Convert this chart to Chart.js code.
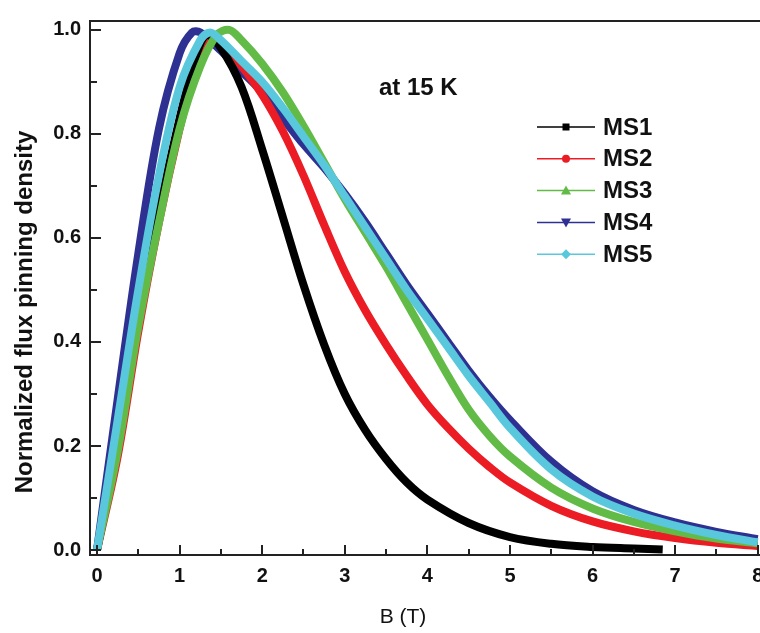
<!DOCTYPE html>
<html>
<head>
<meta charset="utf-8">
<script src="https://cdn.jsdelivr.net/npm/chart.js@4.4.1/dist/chart.umd.min.js"></script>
<style>
html, body { margin: 0; padding: 0; background: #fff; overflow: hidden; }
#wrap { width: 790px; height: 633px; }
</style>
</head>
<body>
<div id="wrap"><canvas id="c" width="790" height="633"></canvas></div>
<script>
// data (B in tesla, normalized Fp)
var names = ['MS1', 'MS2', 'MS3', 'MS4', 'MS5'];

var bMS1 = [0, 0.25, 0.5, 0.75, 1.0, 1.2, 1.33, 1.5, 1.75, 2.0, 2.25, 2.5, 2.75, 3.0, 3.25, 3.5, 3.75, 4.0, 4.5, 5.0, 5.5, 6.0, 6.5, 6.85];
var ms1  = [0, 0.20, 0.44, 0.65, 0.83, 0.95, 0.99, 0.965, 0.89, 0.77, 0.64, 0.51, 0.395, 0.30, 0.23, 0.175, 0.13, 0.097, 0.052, 0.025, 0.012, 0.006, 0.003, 0.001];

var bMS2 = [0, 0.25, 0.5, 0.75, 1.0, 1.2, 1.35, 1.5, 1.75, 2.0, 2.25, 2.5, 2.75, 3.0, 3.25, 3.5, 3.75, 4.0, 4.25, 4.5, 4.75, 5.0, 5.5, 6.0, 6.5, 7.0, 7.5, 8.0];
var ms2  = [0, 0.18, 0.42, 0.63, 0.81, 0.93, 0.985, 0.975, 0.93, 0.875, 0.805, 0.72, 0.625, 0.535, 0.46, 0.395, 0.335, 0.28, 0.235, 0.195, 0.16, 0.13, 0.085, 0.055, 0.036, 0.023, 0.014, 0.008];

var bMS3 = [0, 0.25, 0.5, 0.75, 1.0, 1.25, 1.45, 1.6, 1.75, 2.0, 2.25, 2.5, 2.75, 3.0, 3.25, 3.5, 3.75, 4.0, 4.25, 4.5, 4.75, 5.0, 5.5, 6.0, 6.5, 7.0, 7.5, 8.0];
var ms3  = [0, 0.19, 0.43, 0.63, 0.81, 0.93, 0.99, 1.0, 0.98, 0.935, 0.88, 0.815, 0.745, 0.675, 0.61, 0.545, 0.475, 0.405, 0.335, 0.27, 0.22, 0.18, 0.12, 0.08, 0.054, 0.036, 0.022, 0.013];

var bMS4 = [0, 0.25, 0.5, 0.75, 1.0, 1.15, 1.25, 1.5, 1.75, 2.0, 2.25, 2.5, 2.75, 3.0, 3.25, 3.5, 3.75, 4.0, 4.25, 4.5, 4.75, 5.0, 5.5, 6.0, 6.5, 7.0, 7.5, 8.0];
var ms4  = [0, 0.29, 0.57, 0.81, 0.955, 0.995, 0.995, 0.96, 0.92, 0.88, 0.83, 0.78, 0.735, 0.685, 0.63, 0.57, 0.51, 0.455, 0.40, 0.345, 0.295, 0.25, 0.17, 0.113, 0.077, 0.053, 0.035, 0.021];

var bMS5 = [0, 0.25, 0.5, 0.75, 1.0, 1.25, 1.37, 1.5, 1.75, 2.0, 2.25, 2.5, 2.75, 3.0, 3.25, 3.5, 3.75, 4.0, 4.25, 4.5, 4.75, 5.0, 5.5, 6.0, 6.5, 7.0, 7.5, 8.0];
var ms5  = [0, 0.25, 0.50, 0.72, 0.89, 0.98, 0.995, 0.98, 0.94, 0.90, 0.85, 0.795, 0.74, 0.68, 0.62, 0.56, 0.50, 0.445, 0.39, 0.335, 0.285, 0.235, 0.155, 0.103, 0.07, 0.047, 0.029, 0.015];

var xTicks = [0, 1, 2, 3, 4, 5, 6, 7, 8];
var yTicks = [0, 0.2, 0.4, 0.6, 0.8, 1.0];

var colors  = ['#000000', '#ec1c24', '#62bb46', '#2e3192', '#5ac8dc'];
var markers = ['square', 'circle', 'triUp', 'triDown', 'diamond'];
var drawOrder = [3, 4, 2, 5, 1];

function pts(bs, vs) {
    return bs.map(function (b, i) { return { x: b, y: vs[i] }; });
}
var allB = [bMS1, bMS2, bMS3, bMS4, bMS5];
var allV = [ms1, ms2, ms3, ms4, ms5];

var datasets = names.map(function (n, i) {
    return {
        label: n,
        data: pts(allB[i], allV[i]),
        borderColor: colors[i],
        backgroundColor: colors[i],
        borderWidth: 8,
        pointRadius: 0,
        tension: 0.35,
        order: drawOrder[i]
    };
});

function marker(ctx, kind, x, y, color) {
    ctx.fillStyle = color;
    ctx.beginPath();
    if (kind === 'square') {
        ctx.rect(x - 3.5, y - 3.5, 7, 7);
    } else if (kind === 'circle') {
        ctx.arc(x, y, 4, 0, Math.PI * 2);
    } else if (kind === 'triUp') {
        ctx.moveTo(x, y - 5); ctx.lineTo(x + 5, y + 4); ctx.lineTo(x - 5, y + 4);
    } else if (kind === 'triDown') {
        ctx.moveTo(x, y + 5); ctx.lineTo(x + 5, y - 4); ctx.lineTo(x - 5, y - 4);
    } else {
        ctx.moveTo(x, y - 5); ctx.lineTo(x + 5, y); ctx.lineTo(x, y + 5); ctx.lineTo(x - 5, y);
    }
    ctx.closePath();
    ctx.fill();
}

var decor = {
    id: 'decor',
    afterDraw: function (chart) {
        var ctx = chart.ctx, a = chart.chartArea;
        var xs = chart.scales.x, ys = chart.scales.y;
        ctx.save();
        ctx.strokeStyle = '#222';
        ctx.lineWidth = 2;
        // top frame
        ctx.beginPath();
        ctx.moveTo(a.left - 1, a.top); ctx.lineTo(a.right + 1, a.top);
        ctx.stroke();
        // inward ticks
        for (var v = 0; v <= 8; v += 0.5) {
            var px = Math.round(xs.getPixelForValue(v));
            var lx = (v % 1 === 0) ? 10 : 6;
            ctx.beginPath(); ctx.moveTo(px, a.bottom); ctx.lineTo(px, a.bottom - lx); ctx.stroke();
        }
        for (var k = 0; k <= 10; k++) {
            var py = Math.round(ys.getPixelForValue(k / 10));
            var ly = (k % 2 === 0) ? 11 : 7;
            ctx.beginPath(); ctx.moveTo(a.left, py); ctx.lineTo(a.left + ly, py); ctx.stroke();
        }
        // annotation
        ctx.fillStyle = '#111';
        ctx.font = 'bold 24px Arial, "Liberation Sans", sans-serif';
        ctx.textAlign = 'left';
        ctx.textBaseline = 'alphabetic';
        ctx.fillText('at 15 K', 379, 95);
        // x title
        ctx.font = '21px Arial, "Liberation Sans", sans-serif';
        ctx.textAlign = 'center';
        ctx.textBaseline = 'middle';
        ctx.fillText('B (T)', 403, 617);
        // y title
        ctx.save();
        ctx.translate(32, 312);
        ctx.rotate(-Math.PI / 2);
        ctx.font = 'bold 24px Arial, "Liberation Sans", sans-serif';
        ctx.textAlign = 'center';
        ctx.textBaseline = 'alphabetic';
        ctx.fillText('Normalized flux pinning density', 0, 0);
        ctx.restore();
        // legend
        chart.data.datasets.forEach(function (ds, i) {
            var y = 127 + i * 31.8;
            ctx.strokeStyle = ds.borderColor;
            ctx.lineWidth = 1.5;
            ctx.beginPath(); ctx.moveTo(537, y); ctx.lineTo(595, y); ctx.stroke();
            marker(ctx, markers[i], 566, y, ds.borderColor);
            ctx.fillStyle = '#111';
            ctx.font = 'bold 24px Arial, "Liberation Sans", sans-serif';
            ctx.textAlign = 'left';
            ctx.textBaseline = 'middle';
            ctx.fillText(ds.label, 603, y + 1);
        });
        ctx.restore();
    }
};

new Chart(document.getElementById('c'), {
    type: 'line',
    data: { datasets: datasets },
    options: {
        responsive: false,
        devicePixelRatio: 1,
        animation: false,
        layout: { padding: { top: 12, right: 29, left: 0, bottom: 0 } },
        plugins: { legend: { display: false }, tooltip: { enabled: false } },
        scales: {
            x: {
                type: 'linear',
                min: -0.085,
                max: 8.04,
                afterBuildTicks: function (s) { s.ticks = xTicks.map(function (v) { return { value: v }; }); },
                afterFit: function (s) { s.height = 78; },
                grid: { drawOnChartArea: false, drawTicks: false },
                border: { display: true, width: 2, color: '#222' },
                ticks: {
                    padding: 9,
                    color: '#111',
                    font: { family: 'Arial, "Liberation Sans", sans-serif', size: 20, weight: 'bold' },
                    callback: function (v) { return String(v); }
                }
            },
            y: {
                type: 'linear',
                min: -0.0095,
                max: 1.017,
                afterBuildTicks: function (s) { s.ticks = yTicks.map(function (v) { return { value: v }; }); },
                afterFit: function (s) { s.width = 90; },
                grid: { drawOnChartArea: false, drawTicks: false },
                border: { display: true, width: 2, color: '#222' },
                ticks: {
                    padding: 9,
                    color: '#111',
                    font: { family: 'Arial, "Liberation Sans", sans-serif', size: 20, weight: 'bold' },
                    callback: function (v) { return v.toFixed(1); }
                }
            }
        }
    },
    plugins: [decor]
});
</script>
</body>
</html>
